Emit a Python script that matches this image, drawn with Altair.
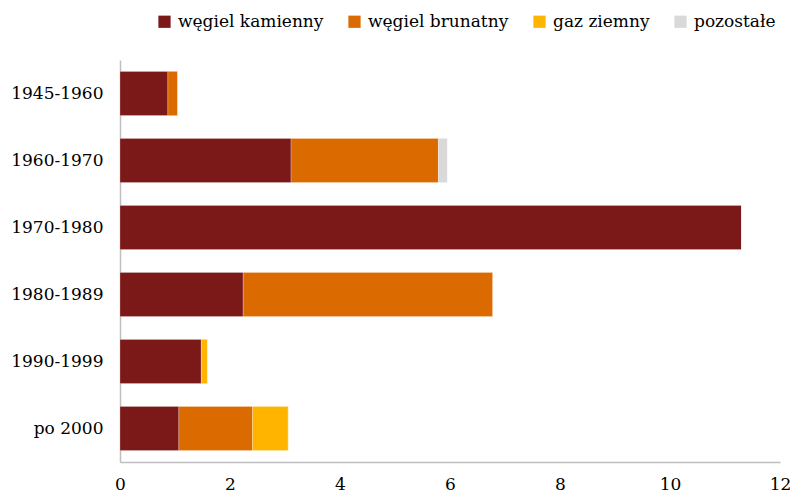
import altair as alt
import pandas as pd

periods = ["1945-1960", "1960-1970", "1970-1980", "1980-1989", "1990-1999", "po 2000"]
series = ["węgiel kamienny", "węgiel brunatny", "gaz ziemny", "pozostałe"]
colors = ["#7B1818", "#DB6A00", "#FFB400", "#D9D9D9"]

wegiel_kamienny = [0.87, 3.11, 11.30, 2.24, 1.48, 1.07]
wegiel_brunatny = [0.18, 2.68, 0.0, 4.54, 0.0, 1.34]
gaz_ziemny = [0.0, 0.0, 0.0, 0.0, 0.11, 0.65]
pozostale = [0.0, 0.16, 0.0, 0.0, 0.0, 0.0]

values = [wegiel_kamienny, wegiel_brunatny, gaz_ziemny, pozostale]
rows = []
for si, (s, vals) in enumerate(zip(series, values)):
    for p, v in zip(periods, vals):
        rows.append({"okres": p, "rodzaj": s, "wartosc": v, "kolejnosc": si})
df = pd.DataFrame(rows)

FONT = "DejaVu Serif"

chart = alt.Chart(df).mark_bar(stroke="white", strokeWidth=0.6, strokeOpacity=0.4).encode(
    y=alt.Y("okres:N", sort=periods, title=None,
            scale=alt.Scale(paddingInner=0.34, paddingOuter=0.17),
            axis=alt.Axis(domainColor="#BFBFBF", domainWidth=1.5, ticks=False,
                          labelFont=FONT, labelFontSize=17, labelColor="#000000",
                          labelPadding=17)),
    x=alt.X("wartosc:Q", title=None, stack="zero",
            scale=alt.Scale(domain=[0, 12], nice=False),
            axis=alt.Axis(values=[0, 2, 4, 6, 8, 10, 12], grid=False, ticks=False,
                          domainColor="#BFBFBF", domainWidth=1.5,
                          labelFont=FONT, labelFontSize=17, labelColor="#000000",
                          labelPadding=14, labelFlush=False)),
    color=alt.Color("rodzaj:N", sort=series,
                    scale=alt.Scale(domain=series, range=colors),
                    legend=alt.Legend(title=None, orient="none", direction="horizontal",
                                      legendX=36, legendY=-47,
                                      symbolType="square", symbolSize=150,
                                      symbolStrokeWidth=0,
                                      labelFont=FONT, labelFontSize=17,
                                      labelColor="#000000", labelOffset=5,
                                      columnPadding=22, labelLimit=300)),
    order=alt.Order("kolejnosc:Q"),
).properties(
    width=660, height=402,
    autosize=alt.AutoSizeParams(type="none"),
    padding={"left": 112, "top": 52, "right": 10, "bottom": 30},
).configure_view(stroke=None).configure_legend(labelFont=FONT, labelFontSize=17)

chart.save("out.html", embed_options={"renderer": "svg", "actions": False})
